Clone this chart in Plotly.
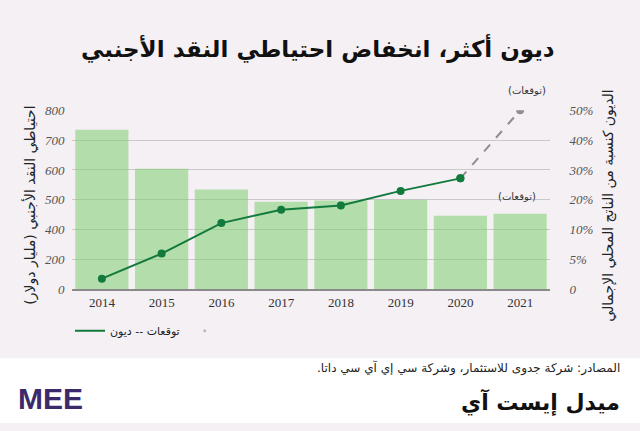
import numpy as np
import plotly.graph_objects as go

# Data
years = ['2014', '2015', '2016', '2017', '2018', '2019', '2020', '2021']
reserves = [735, 604, 535, 494, 498, 500, 447, 453]          # billion USD (bars)
debt_years = ['2014', '2015', '2016', '2017', '2018', '2019', '2020']
debt = [1.8, 6.0, 12.2, 16.7, 18.1, 23.0, 27.2]              # % of GDP, actual
forecast_years = ['2020', '2021']
forecast = [27.2, 50.0]                                        # % of GDP, forecast

# Axis labels of the original (equally spaced gridlines, uneven values)
left_ticks = [0, 200, 400, 500, 600, 700, 800]
right_ticks = [0, 5, 10, 20, 30, 40, 50]
right_labels = ['0', '5%', '10%', '20%', '30%', '40%', '50%']
grid_idx = list(range(len(left_ticks)))

# Colours
bg = '#f4f0f4'
bar_color = 'rgba(125, 205, 110, 0.55)'
line_color = '#127a3c'
forecast_color = '#8f8f8f'
grid_color = '#cbc7cb'

W, H = 640, 431
RLM = '\u200f'


def px_x(p):
    return p / W


def px_y(p):
    # small vertical stretch to line things up with the reference shot
    p = (p - 3) / 0.981
    return (H - p) / H


# piecewise scales matching the original axes
bar_pos = np.interp(reserves, left_ticks, grid_idx)
debt_pos = np.interp(debt, right_ticks, grid_idx)
fc_pos = np.interp(forecast, right_ticks, grid_idx)

fig = go.Figure()

fig.add_trace(go.Bar(
    x=years, y=bar_pos, customdata=reserves,
    marker=dict(color=bar_color, line=dict(width=0)),
    hovertemplate='%{x}: %{customdata}<extra></extra>',
    showlegend=False,
))

fig.add_trace(go.Scatter(
    x=forecast_years, y=fc_pos, customdata=forecast, yaxis='y2',
    mode='lines+markers',
    line=dict(color=forecast_color, width=2, dash='dash'),
    marker=dict(color=[line_color, forecast_color], size=8),
    hovertemplate='%{x}: %{customdata}%<extra></extra>',
    showlegend=False,
))

fig.add_trace(go.Scatter(
    x=debt_years, y=debt_pos, customdata=debt, yaxis='y2',
    mode='lines+markers',
    line=dict(color=line_color, width=2),
    marker=dict(color=line_color, size=8),
    hovertemplate='%{x}: %{customdata}%<extra></extra>',
    showlegend=False,
))

# legend entries
fig.add_trace(go.Scatter(
    x=[None], y=[None], mode='lines', name='توقعات -- ديون',
    line=dict(color=line_color, width=2),
))
fig.add_trace(go.Scatter(
    x=[None], y=[None], mode='markers', name=' ',
    marker=dict(color='#bbbbbb', size=3),
))

serif_tick = dict(family='Liberation Serif', size=13, color='#555555', style='italic')

fig.update_layout(
    width=W, height=H,
    margin=dict(l=0, r=0, t=0, b=0),
    paper_bgcolor=bg, plot_bgcolor=bg,
    bargap=0.11,
    font=dict(family='DejaVu Sans', color='#222222'),
    xaxis=dict(
        domain=[px_x(72), px_x(550)],
        showline=True, linecolor='#8a8a8a', linewidth=2,
        ticks='',
        tickfont=dict(family='Liberation Serif', size=13, color='#333333'),
        showgrid=False, fixedrange=True,
    ),
    yaxis=dict(
        domain=[px_y(290), px_y(108)],
        range=[0, 6],
        tickvals=grid_idx, ticktext=[str(v) for v in left_ticks],
        showgrid=True, gridcolor=grid_color, gridwidth=1,
        zeroline=False,
        ticks='outside', ticklen=4, tickcolor='rgba(0,0,0,0)',
        tickfont=serif_tick,
    ),
    yaxis2=dict(
        overlaying='y', side='right',
        range=[0, 6],
        tickvals=grid_idx, ticktext=right_labels,
        showgrid=False, zeroline=False,
        ticks='outside', ticklen=16, tickcolor='rgba(0,0,0,0)',
        tickfont=serif_tick,
    ),
    legend=dict(
        orientation='h', x=px_x(70), y=px_y(332),
        xanchor='left', yanchor='middle',
        bgcolor='rgba(0,0,0,0)',
        font=dict(family='DejaVu Sans', size=11, color='#222222'),
        itemwidth=30,
    ),
    shapes=[dict(
        type='rect', xref='paper', yref='paper',
        x0=0, x1=1, y0=0, y1=px_y(360),
        fillcolor='white', line=dict(width=0), layer='below',
    )],
)

annotations = [
    # title
    dict(text='<b>ديون أكثر، انخفاض احتياطي النقد الأجنبي</b>',
         x=0.497, y=px_y(45), font=dict(size=23, color='#111111')),
    # axis titles
    dict(text=RLM + 'احتياطي النقد الأجنبي (مليار دولار)' + RLM, textangle=-90,
         x=px_x(30), y=px_y(205), font=dict(size=14, color='#222222')),
    dict(text='الديون كنسبة من الناتج المحلي الإجمالي', textangle=-90,
         x=px_x(609), y=px_y(205), font=dict(size=14, color='#222222')),
    # forecast notes
    dict(text=RLM + '(توقعات)' + RLM, x=px_x(527), y=px_y(88),
         font=dict(size=10, color='#333333')),
    dict(text=RLM + '(توقعات)' + RLM, x=px_x(517), y=px_y(196),
         font=dict(size=10, color='#333333')),
    # footer
    dict(text=RLM + 'المصادر: شركة جدوى للاستثمار، وشركة سي إي آي سي داتا.' + RLM,
         x=px_x(622), y=px_y(370), xanchor='right', font=dict(size=12, color='#222222')),
    dict(text='<b>ميدل إيست آي</b>',
         x=px_x(622), y=px_y(404), xanchor='right', font=dict(size=22, color='#111111')),
    dict(text='<b>MEE</b>',
         x=px_x(16), y=px_y(401), xanchor='left',
         font=dict(family='Liberation Sans', size=30, color='#3b2a6b')),
]
for a in annotations:
    a.setdefault('xref', 'paper')
    a.setdefault('yref', 'paper')
    a.setdefault('showarrow', False)
    a.setdefault('xanchor', 'center')
    a.setdefault('yanchor', 'middle')
    fig.add_annotation(**a)

# drop the default page margin so the figure fills the window exactly
page_fix = (
    "document.documentElement.style.margin='0';"
    "document.documentElement.style.overflow='hidden';"
    "document.body.style.margin='0';"
    "document.body.style.overflow='hidden';"
)
fig.write_html('out.html', config={'displayModeBar': False}, post_script=page_fix)
